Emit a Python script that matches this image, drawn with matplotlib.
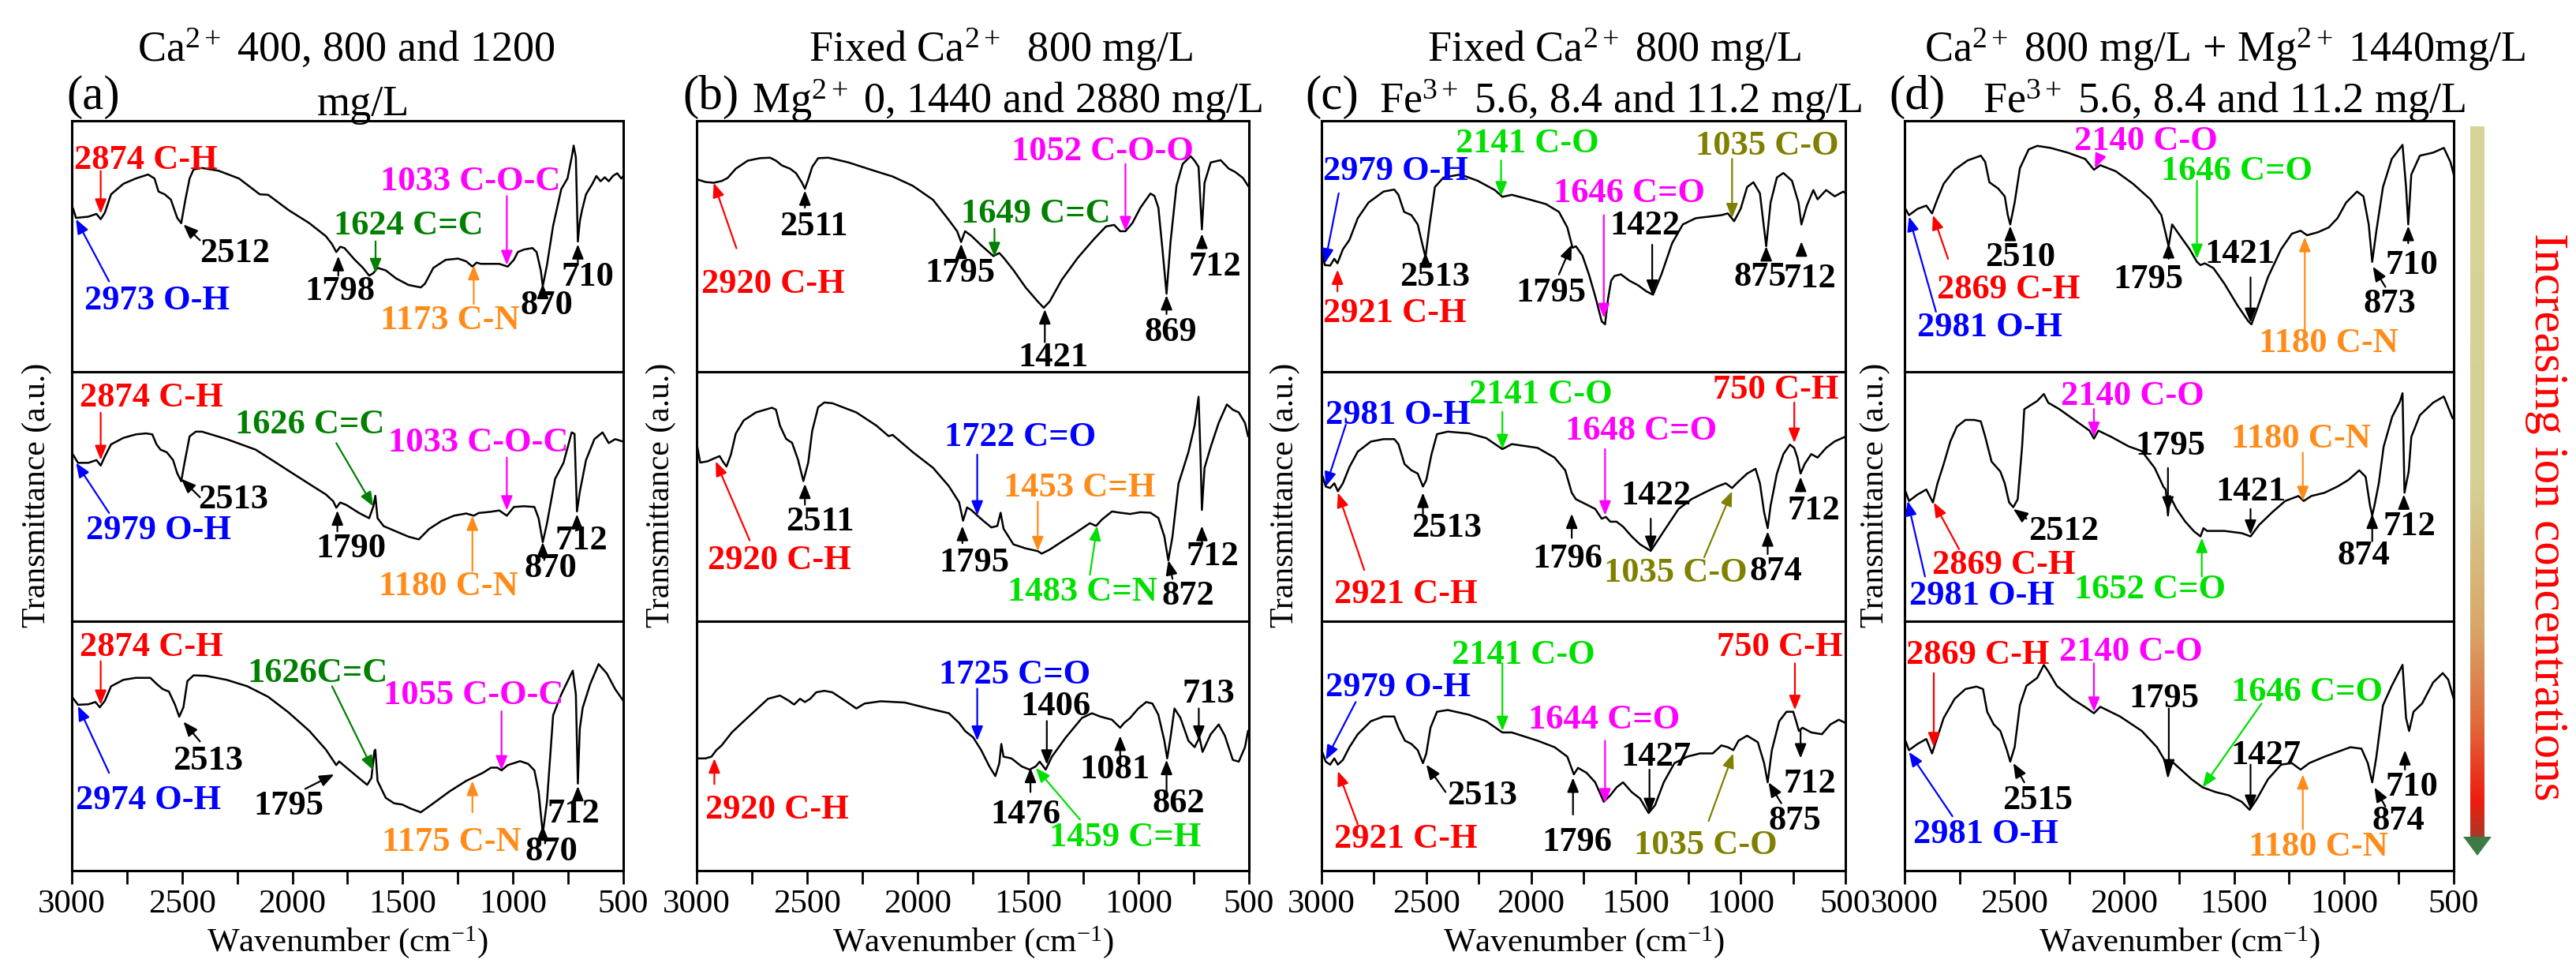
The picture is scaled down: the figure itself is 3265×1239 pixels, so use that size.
import numpy as np
import matplotlib
matplotlib.use('Agg')
import matplotlib.pyplot as plt
from matplotlib.colors import LinearSegmentedColormap
from matplotlib.patches import Polygon

plt.rcParams['font.family'] = ['Liberation Serif', 'DejaVu Serif']
plt.rcParams['mathtext.fontset'] = 'custom'
plt.rcParams['mathtext.rm'] = 'Liberation Serif'
plt.rcParams['mathtext.it'] = 'Liberation Serif:italic'
plt.rcParams['mathtext.bf'] = 'Liberation Serif:bold'

# ---------------- spectra: (wavenumber cm-1, transmittance a.u.) ----------------
a1 = [(2994,65),(2981,61.3),(2925,61.8),(2888,62.9),(2869,60.8),(2850,63.4),(2822,70.7),(2766,74.9),(2710,77),(2654,78.6),(2625,77),(2607,71.8),(2579,70.7),(2551,68.6),(2522,61.3),(2504,59.2),(2485,68.6),(2466,77),(2448,80.6),(2410,81.2),(2335,80.1),(2242,77),(2148,70.7),(2110,70.5),(2017,64.4),(1923,59.2),(1848,54),(1820,50.8),(1801,47.7),(1783,49.8),(1764,49.3),(1717,44.6),(1680,41.4),(1652,38.3),(1633,39.3),(1614,41.4),(1577,40.4),(1530,37.2),(1474,34.6),(1418,33.6),(1399,35.1),(1361,41.4),(1305,44.6),(1249,45.1),(1212,44),(1184,41.9),(1165,43.5),(1146,43),(1118,43),(1062,43),(1024,41.9),(996,44.6),(978,47.7),(950,48.7),(912,49.3),(893,47.7),(874,40.4),(865,34.1),(846,42.5),(818,58.2),(781,72.8),(753,77),(734,85.4),(725,90.1),(715,85.4),(706,51.9),(697,60),(687,64.4),(669,70.7),(640,74.9),(622,78),(603,75.9),(584,77.5),(566,75.9),(547,78),(528,79.1),(509,77),(500,78)]
a2 = [(2994,66.7),(2972,63.5),(2925,63.5),(2888,64.6),(2869,62.4),(2850,66.1),(2822,70.9),(2766,73.5),(2710,74.9),(2663,75.3),(2635,74.9),(2616,70.9),(2598,68.8),(2569,67.7),(2541,64.6),(2522,59.3),(2504,56.1),(2489,63.5),(2466,74.1),(2438,76),(2410,76),(2298,73),(2167,68.8),(2110,65.6),(2017,60.3),(1923,55),(1848,50.8),(1815,48.1),(1801,45.5),(1783,47.6),(1755,46.6),(1698,43.4),(1652,41.3),(1633,46),(1624,50.3),(1614,41.3),(1586,38.1),(1530,36),(1474,33.9),(1427,32.8),(1380,37),(1324,40.2),(1268,42.3),(1212,43.2),(1178,42.3),(1155,43.4),(1099,43.9),(1062,44.4),(1028,42.3),(996,45.8),(950,46.1),(903,45.8),(884,41.3),(865,31.7),(846,39.2),(809,57.1),(771,63.5),(734,75.7),(721,75.1),(710,44),(697,51.9),(669,64.6),(631,73),(594,75.7),(566,71.4),(537,73),(500,72)]
a3 = [(2994,69.1),(2972,66.5),(2925,66.7),(2893,67.6),(2873,65.5),(2850,68.1),(2822,73.9),(2766,76.5),(2710,77.3),(2644,77.3),(2616,74.9),(2588,72.8),(2560,71.8),(2532,66.5),(2513,61.7),(2494,65.5),(2476,76),(2448,78.3),(2391,78.1),(2298,76.5),(2204,73.9),(2110,69.7),(2017,63.4),(1923,56),(1848,48.5),(1820,44.8),(1801,42.3),(1788,43.8),(1755,41.3),(1698,37.1),(1661,34.4),(1642,37.1),(1628,48),(1624,48.5),(1614,36),(1577,29.2),(1539,27),(1502,26.5),(1464,24.9),(1418,23.4),(1361,27),(1287,31.8),(1212,36),(1174,37.6),(1137,39.2),(1099,41.3),(1071,41.3),(1052,40.2),(1024,42.3),(968,43.9),(931,42.8),(903,40.2),(884,31.8),(865,14.9),(846,27.6),(818,62.3),(781,70.7),(729,80.2),(715,70.7),(706,34.9),(697,57),(684,65.3),(650,74.8),(612,82.8),(575,79.1),(537,72.8),(500,68.1)]
b1 = [(2996,76.6),(2960,75.6),(2923,75.3),(2887,76),(2860,77.2),(2823,80.9),(2769,84.1),(2714,85.1),(2668,85.3),(2641,84.1),(2614,82.2),(2577,80.9),(2550,79.1),(2523,75.3),(2510,72.9),(2495,76.6),(2477,81.6),(2450,85.1),(2404,85.3),(2313,83.4),(2204,80.3),(2113,77.8),(2022,74.1),(1930,68.5),(1858,60.4),(1821,56),(1803,51.7),(1785,56),(1757,54.2),(1712,50.4),(1657,46.1),(1630,47.3),(1611,45.5),(1566,40.5),(1511,33.6),(1456,28),(1429,25.5),(1402,28),(1347,36.7),(1274,45.5),(1201,52.9),(1147,57.9),(1110,58.5),(1083,56),(1059,56),(1028,59.2),(991,65.4),(946,71),(928,70.1),(910,65.4),(892,49.2),(873,31.1),(855,51.7),(828,74.1),(800,82.8),(764,85.9),(746,84.1),(728,81.6),(713,56.7),(701,75.3),(673,83.4),(628,84.3),(591,80.9),(564,79.7),(527,77.2),(504,74.1)]
b2 = [(2996,69.4),(2984,63.6),(2951,64.1),(2923,65.2),(2896,66.2),(2882,64.1),(2865,62),(2845,66.8),(2823,75.2),(2787,80.5),(2732,83.7),(2659,85.6),(2641,84.8),(2623,78.4),(2595,73.1),(2568,71.5),(2541,64.7),(2517,56.2),(2495,63.6),(2477,76.3),(2450,85.8),(2422,87.7),(2386,87.4),(2277,83.7),(2186,78.4),(2131,74.2),(2113,74.7),(2022,67.8),(1930,61.5),(1858,54.1),(1812,47.7),(1794,40.3),(1776,45.6),(1757,44.6),(1730,42.4),(1703,40.3),(1666,37.6),(1639,38.2),(1624,43.5),(1611,37.1),(1566,30.8),(1511,29.2),(1456,28.1),(1438,27.1),(1402,28.7),(1347,31.9),(1292,35),(1220,39.3),(1192,38.2),(1165,40.8),(1120,44),(1083,43.5),(1038,43),(992,43.7),(946,43.5),(910,41.4),(883,34),(865,24.4),(846,34),(819,55.1),(774,67.8),(746,78.4),(728,90),(719,65.7),(713,44.6),(701,61.5),(673,69.9),(637,79.5),(600,86.9),(573,84.8),(546,83.7),(518,79.5),(504,74.2)]
b3 = [(2996,45),(2960,45),(2933,45.7),(2911,48.3),(2887,50.2),(2841,55.4),(2787,59.9),(2732,64.4),(2677,68.9),(2623,70.2),(2586,68.3),(2559,66.6),(2532,68.9),(2510,67.6),(2486,68.9),(2459,71.5),(2422,72.1),(2386,71.5),(2331,68.3),(2277,65),(2240,67),(2167,67.9),(2058,67.4),(1949,65),(1858,63.1),(1812,59.2),(1785,56),(1748,53.4),(1712,48.3),(1675,41.8),(1648,37.9),(1630,43.1),(1621,50.8),(1611,45.7),(1575,45),(1529,41.8),(1493,40.5),(1465,41.8),(1447,43.7),(1420,40.5),(1392,45.7),(1329,53.4),(1256,61.2),(1211,63.1),(1174,61.8),(1120,60.5),(1083,57.3),(1065,59.2),(1038,61.2),(1001,65),(965,67.6),(937,67),(910,62.5),(883,52.1),(870,45),(855,53.4),(837,65),(810,61.2),(774,52.1),(746,49.5),(724,53.4),(710,47.6),(673,54.7),(637,58.6),(609,54.1),(573,44.4),(546,43.7),(518,49.5),(504,56)]
c1 = [(2994,46.3),(2984,42.5),(2959,42.3),(2939,45),(2924,43.2),(2898,48.8),(2867,52.5),(2827,61.2),(2776,67.4),(2704,71.8),(2653,72.6),(2633,70.5),(2606,63.7),(2571,62.4),(2541,58.7),(2520,51.2),(2504,45.6),(2484,58.7),(2459,73.6),(2418,77.4),(2337,78.6),(2255,76.1),(2173,72.4),(2137,69.7),(2092,70.5),(2010,68.7),(1929,66.8),(1867,63.7),(1827,57.5),(1802,49.4),(1786,50),(1755,46.3),(1724,38.8),(1694,30.1),(1663,20.1),(1647,18.9),(1633,28.9),(1618,36.3),(1602,38.2),(1571,38.8),(1531,36.3),(1490,34.5),(1449,32),(1418,30.7),(1378,38.8),(1327,51.2),(1276,58.7),(1214,61.2),(1153,61.8),(1092,62.4),(1061,63.1),(1031,60),(1000,64.9),(969,73.6),(939,75.5),(908,71.1),(878,50),(857,67.4),(827,77.4),(796,79.2),(755,76.1),(724,67.4),(710,58.7),(684,66.2),(653,72.4),(633,68.7),(592,72.4),(551,69.9),(510,71.8),(500,71.1)]
c2 = [(2994,57.9),(2980,54),(2959,53.4),(2939,55.3),(2922,52.1),(2898,55.3),(2867,61.8),(2827,68),(2765,72),(2704,73),(2653,73),(2633,71),(2604,63),(2571,60.5),(2541,59.2),(2516,54),(2500,56.6),(2475,67),(2449,75),(2398,76),(2296,75.3),(2214,73.4),(2137,69),(2092,71),(1969,69.5),(1888,65.6),(1837,60.5),(1806,51.5),(1786,48.9),(1755,47.6),(1724,46.3),(1694,45),(1663,41.1),(1643,41.8),(1622,39.9),(1592,39.9),(1561,37.9),(1520,34),(1480,30.8),(1429,28.2),(1398,32.1),(1347,38.6),(1296,45),(1235,48.9),(1174,51.5),(1112,54),(1071,55.3),(1041,53.4),(1010,56),(969,59.2),(929,61.1),(908,55.3),(888,43.7),(871,37.3),(857,46.3),(827,59.2),(796,67),(765,70.8),(745,69.5),(729,65.6),(714,59.2),(694,63.1),(663,67),(633,65.6),(592,69.5),(551,72.1),(500,74)]
c3 = [(2994,47),(2980,43.7),(2959,42.5),(2939,45),(2922,42.5),(2898,44.4),(2867,49.5),(2827,54.7),(2765,59.9),(2704,61.8),(2653,61.8),(2633,57.3),(2602,52.1),(2571,50.8),(2541,48.3),(2516,43.1),(2500,47),(2480,57.3),(2449,63.7),(2398,64.4),(2296,62.5),(2214,59.9),(2137,55.4),(2092,55.4),(1969,52.1),(1888,49.5),(1827,45.7),(1796,38.6),(1776,41.2),(1735,39.2),(1694,35.4),(1653,27.6),(1622,30.2),(1592,33.4),(1561,35.4),(1520,31.5),(1480,28.9),(1439,23.1),(1408,26.3),(1367,35.4),(1316,43.1),(1255,45.7),(1194,47),(1133,47),(1092,50.2),(1061,49.5),(1035,48.3),(1010,52.1),(969,54.1),(918,51.5),(888,43.1),(871,35.4),(851,48.3),(816,59.9),(781,63.7),(749,63.7),(735,59.9),(722,56),(705,57.3),(663,55.4),(612,54.7),(572,58.6),(531,60.5),(500,59.2)]
d1 = [(2996,64.9),(2980,62.4),(2941,64.9),(2901,66.2),(2875,63.1),(2851,68.7),(2822,74.9),(2772,80.5),(2713,84.2),(2653,86.1),(2633,83.6),(2614,75.5),(2574,73),(2544,69.9),(2530,62.4),(2519,58.7),(2499,67.4),(2475,81.1),(2435,88.6),(2396,90),(2336,89.2),(2257,87.3),(2178,84.8),(2138,80.5),(2109,82.3),(2039,79.9),(1960,74.9),(1881,68.7),(1831,62.4),(1811,55),(1798,50),(1782,58.7),(1742,53.7),(1702,48.8),(1669,43.8),(1653,42.5),(1633,43.2),(1594,41.3),(1544,35.1),(1484,26.4),(1435,20.1),(1421,18.9),(1395,25.1),(1346,37.6),(1286,48.8),(1237,55),(1197,56.2),(1168,54.4),(1118,55.6),(1069,57.5),(1029,61.2),(990,67.4),(940,71.8),(911,69.9),(887,58.7),(871,43.8),(852,56.2),(822,73.6),(782,84.8),(733,90.4),(717,73.6),(707,58.7),(693,78.6),(654,86.1),(594,87.3),(545,89.2),(515,83.6),(500,78.6)]
d2 = [(2996,52.1),(2980,48.2),(2941,50.8),(2901,52.8),(2871,47.6),(2851,55),(2822,63),(2792,72),(2762,78),(2723,80.7),(2683,80.7),(2653,80.1),(2633,74),(2604,64),(2564,60),(2544,55.3),(2524,47.6),(2505,45.7),(2485,48.9),(2465,70),(2455,85),(2396,88.3),(2366,91.1),(2346,87.6),(2297,85.1),(2217,80.1),(2158,76.4),(2138,73.2),(2118,76.4),(2059,73.9),(1980,70.1),(1920,68.2),(1861,61.4),(1821,53.8),(1811,52.8),(1801,42.4),(1792,50.2),(1762,45),(1722,39.9),(1682,36),(1653,34),(1639,37.3),(1623,36.2),(1544,36.2),(1465,35.3),(1425,34),(1386,38.6),(1326,43.7),(1267,48.2),(1207,50.2),(1183,48.2),(1148,50.2),(1088,51.5),(1029,54),(980,56.6),(930,60.5),(901,57.9),(881,46.3),(871,42.4),(861,46.3),(841,55.3),(819,70),(780,82),(745,88),(733,91.4),(724,51.5),(705,60),(693,73.9),(654,82.6),(594,87.6),(545,90.1),(505,81.4)]
d3 = [(2996,52.1),(2980,48.3),(2941,50.8),(2901,52.8),(2875,47),(2851,53.4),(2822,61.2),(2772,68.9),(2723,72.8),(2673,73.8),(2643,72.8),(2624,63.7),(2594,58.6),(2564,56),(2534,48.3),(2519,43.7),(2499,49.5),(2475,66.3),(2445,74.1),(2396,77.3),(2366,82.5),(2346,79.9),(2307,74.1),(2237,68.9),(2168,65),(2138,63.1),(2109,65.7),(2019,61.8),(1920,56),(1851,49.5),(1817,44.4),(1801,37.9),(1782,43.7),(1742,40.5),(1693,36.6),(1643,33.4),(1584,31.5),(1524,30.2),(1465,27.6),(1429,24.4),(1395,28.9),(1346,36.6),(1286,42.5),(1237,43.1),(1197,40.5),(1158,43.1),(1088,45.7),(1029,47.6),(970,49.5),(920,48.9),(891,43.1),(871,35.4),(852,45.7),(822,66.3),(782,74.1),(733,82.5),(717,61.2),(703,56),(683,63.7),(644,67),(594,75.4),(550,79.2),(525,76.6),(500,68.9)]

# ---------------- peak labels: (text, colour key, text wn, text T, arrow tail wn, tail T, tip wn, tip T) ----------------
a1_ann = [("2874 C-H","R",2991,84.3,2869,80,2869,63),("2973 O-H","B",2944,28.3,2831,36,2981,60.8),("2512","K",2419,47.2,2419,52.4,2494,58.7),("1798","K",1942,32,1792,38.3,1792,46.1),("1624 C=C","G",1811,58.2,1623,52,1623,39.3),("1033 C-O-C","M",1601,75.9,1028,70,1028,42.5),("1173 C-N","O",1601,20.5,1178,27,1178,42.5),("870","K",968,26.3,865,30,865,35),("710","K",781,37.8,706,42.5,706,50.8)]
a2_ann = [("2874 C-H","R",2963,89.4,2869,83.6,2869,64.6),("2979 O-H","B",2934,36.5,2831,43.4,2981,63.5),("2513","K",2429,48.7,2419,49.7,2504,57.1),("1790","K",1895,29.1,1796,36,1796,44.4),("1626 C=C","G",2260,78.8,1801,71.4,1633,46),("1033 C-O-C","M",1567,71.4,1028,65.6,1028,44.4),("1180 C-N","O",1608,13.8,1184,20.1,1184,42.3),("870","K",950,21.2,865,25.4,865,31.7),("712","K",809,32.3,710,37,710,42.9)]
a3_ann = [("2874 C-H","R",2963,89.7,2869,84,2869,66.5),("2974 O-H","B",2981,28.1,2831,39.2,2972,66),("2513","K",2541,43.9,2419,51.8,2494,59.7),("1795","K",2176,26,1942,32.8,1811,38.6),("1626C=C","G",2204,79.2,1820,73.9,1633,40.2),("1055 C-O-C","M",1586,70.2,1052,63.9,1052,40.2),("1175 C-N","O",1596,11.3,1184,23.4,1184,36),("870","K",946,7.6,865,13.9,865,18.1),("712","K",846,22.8,706,29.7,706,33.9)]
b1_ann = [("2920 C-H","R",2978,34.9,2820,49.2,2923,75.3),("2511","K",2626,57.9,2510,65.4,2510,72.2),("1795","K",1967,39.2,1803,46.7,1803,51),("1649 C=C","G",1803,62.9,1652,57,1652,45.7),("1052 C-O-O","M",1575,87.8,1059,82.8,1059,56),("1421","K",1544,5.6,1424,11.8,1424,24.9),("869","K",974,15.6,873,23,873,30.5),("712","K",773,41.7,713,49.2,713,55)]
b2_ann = [("2920 C-H","R",2951,24.4,2760,32.4,2914,64.1),("2511","K",2596,39.8,2510,46.7,2510,55.1),("1795","K",1903,23.4,1797,31.3,1797,38.2),("1722 C=O","B",1879,73.7,1730,66.8,1730,42.4),("1453 C=H","O",1611,53.5,1456,48,1456,28.1),("1483 C=N","LG",1593,11.7,1220,18.6,1187,38.2),("872","K",895,10.2,846,17,865,24.4),("712","K",783,26,713,31.9,713,38.2)]
b3_ann = [("2920 C-H","R",2960,24.4,2920,34.7,2920,45),("1725 C=O","B",1903,78.6,1730,73,1730,52.1),("1406","K",1533,65.7,1415,60,1415,42.5),("1476","K",1669,22.5,1489,31.5,1489,41.2),("1459 C=H","LG",1404,13.4,1265,20.5,1465,41.2),("1081","K",1265,40.5,1083,45.7,1083,54.1),("862","K",937,27,873,31.5,873,44.4),("713","K",800,70.8,727,65,727,52.1)]
c1_ann = [("2979 O-H","B",2994,79.9,2918,71.1,2984,43.2),("2921 C-H","R",2994,23.3,2924,32,2924,40.7),("2513","K",2627,37.6,2504,42.5,2504,47.5),("2141 C-O","LG",2361,91,2143,84.2,2143,69.9),("1795","K",2071,31.3,1867,38.8,1806,50.6),("1646 C=O","M",1892,71.1,1653,62.4,1653,21.4),("1422","K",1626,58.1,1422,50.6,1422,30.7),("1035 C-O","OL",1214,89.8,1041,84.8,1041,61.2),("875","K",1031,37.6,878,45,878,50),("712","K",796,37,710,46.3,710,51.9)]
c2_ann = [("2981 O-H","B",2980,82.6,2884,78.8,2980,54),("2141 C-O","LG",2296,90.8,2137,83.9,2137,69),("1648 C=O","M",1837,76.3,1647,69,1647,42.4),("750 C-H","R",1132,92.7,744,87.7,744,71.5),("2921 C-H","R",2939,10.8,2796,20.5,2922,51.5),("2513","K",2571,37.3,2516,43.1,2516,51.5),("1796","K",1994,25,1806,33.4,1806,43.1),("1422","K",1571,50.2,1429,41.1,1429,28.2),("1035 C-O","OL",1653,19.2,1174,25.6,1041,52.1),("874","K",959,19.9,871,26.9,871,36),("712","K",775,44.4,714,52.1,714,57.9)]
c3_ann = [("2141 C-O","LG",2378,86.3,2137,83.1,2137,56),("2979 O-H","B",2980,73.4,2837,67.6,2980,44.4),("2921 C-H","R",2939,12.8,2827,18.6,2922,39.9),("2513","K",2402,30.2,2408,31.5,2500,42.5),("1644 C=O","M",2014,60.5,1647,52.1,1647,27),("1427","K",1571,45.7,1435,40.5,1435,23.1),("1796","K",1949,11.5,1800,22.5,1800,37.3),("1035 C-O","OL",1510,10.2,1153,19.9,1035,47),("875","K",867,19.9,806,27,867,35.4),("712","K",796,34.7,714,56,714,45),("750 C-H","R",1112,89.5,741,83.1,741,64.4)]
d1_ann = [("2140 C-O","M",2227,91.7,2109,86.1,2134,81.1),("1646 C=O","LG",1831,79.9,1669,76.1,1669,45),("2510","K",2633,45.6,2519,53.7,2519,58.1),("2869 C-H","R",2851,32.6,2802,45,2871,62.4),("2981 O-H","B",2941,17.7,2857,23.9,2980,61.8),("1795","K",2049,36.9,1798,45,1798,51.2),("1421","K",1633,46.9,1425,37.6,1425,19.5),("1180 C-N","O",1386,11.4,1178,16.4,1178,53.7),("710","K",811,42.5,707,51.2,707,58.1),("873","K",910,27,811,33.8,868,41.9)]
d2_ann = [("2140 C-O","M",2287,90.1,2138,85.1,2138,73.9),("1795","K",1950,70.1,1801,61.4,1801,44),("1180 C-N","O",1514,73.2,1187,67.6,1187,48.2),("1421","K",1583,52,1425,45,1425,34.7),("2512","K",2435,36,2445,41.1,2505,45),("2869 C-H","R",2875,22.4,2752,28.9,2867,47.6),("2981 O-H","B",2980,10.2,2907,17.9,2986,48.2),("1652 C=O","LG",2227,12.8,1647,17.9,1647,33.4),("874","K",1029,26.3,871,32.1,871,43.1),("712","K",822,37.9,727,45,727,50.8)]
d3_ann = [("2869 C-H","R",2994,86.3,2867,79.2,2867,49.5),("2140 C-O","M",2297,87.6,2138,83.1,2138,63.7),("1795","K",1980,68.9,1797,65,1797,38.6),("1646 C=O","LG",1514,71.5,1375,67,1643,33.4),("1427","K",1514,46.3,1425,42.5,1425,24.4),("2515","K",2554,28.3,2455,35.4,2505,43.1),("2981 O-H","B",2960,14.7,2782,21.8,2980,47.6),("710","K",811,33.4,722,40.5,722,48.3),("874","K",871,19.9,811,25.7,861,33.4),("1180 C-N","O",1435,9.5,1187,16.6,1187,38.6)]

xtick_major = [3000, 2500, 2000, 1500, 1000, 500]
xtick_minor = [2750, 2250, 1750, 1250, 750]

titles_line1 = ["Ca$^{2+}$ 400, 800 and 1200", "Fixed Ca$^{2+}$  800 mg/L", "Fixed Ca$^{2+}$ 800 mg/L",
                "Ca$^{2+}$ 800 mg/L + Mg$^{2+}$ 1440mg/L"]
titles_line2 = ["mg/L", "Mg$^{2+}$ 0, 1440 and 2880 mg/L", "Fe$^{3+}$ 5.6, 8.4 and 11.2 mg/L",
                "Fe$^{3+}$ 5.6, 8.4 and 11.2 mg/L"]
panel_labels = ["(a)", "(b)", "(c)", "(d)"]
side_text = "Increasing ion concentrations"

COLORS = {"R": "#ff0000", "B": "#0000ff", "G": "#008000", "LG": "#00e000",
          "M": "#ff00ff", "O": "#ff8c1a", "OL": "#808000", "K": "#000000"}

spectra = [[a1, a2, a3], [b1, b2, b3], [c1, c2, c3], [d1, d2, d3]]
annots = [[a1_ann, a2_ann, a3_ann], [b1_ann, b2_ann, b3_ann],
          [c1_ann, c2_ann, c3_ann], [d1_ann, d2_ann, d3_ann]]

# ---------------- layout (pixels) ----------------
W, H = 3265, 1239
fig = plt.figure(figsize=(W / 100, H / 100), dpi=100)
cols_px = [(91, 790), (883, 1583), (1675, 2339), (2414, 3110)]
rows_px = [(153, 471), (471, 787), (787, 1103)]

def fx(px):
    return px / W

def fy(py):
    return 1 - py / H

for ci, (l, r) in enumerate(cols_px):
    for ri, (t, b) in enumerate(rows_px):
        ax = fig.add_axes([fx(l), fy(b), (r - l) / W, (b - t) / H])
        pts = spectra[ci][ri]
        wn = [p[0] for p in pts]
        tr = [p[1] for p in pts]
        ax.plot(wn, tr, color='black', lw=1.8)
        ax.set_xlim(3000, 500)
        ax.set_ylim(0, 100)
        ax.set_yticks([])
        for s in ax.spines.values():
            s.set_linewidth(2.2)
        if ri == 2:
            ax.set_xticks(xtick_major)
            ax.set_xticks(xtick_minor, minor=True)
            ax.set_xticklabels([str(v) for v in xtick_major])
            ax.tick_params(axis='x', which='both', direction='out', length=12, width=2,
                           labelsize=31, pad=5)
        else:
            ax.set_xticks([])
        for lab, ck, tx, ty, x0, y0, x1, y1 in annots[ci][ri]:
            c = COLORS[ck]
            ax.annotate('', xy=(x1, y1), xytext=(x0, y0),
                        arrowprops=dict(arrowstyle='-|>,head_length=0.55,head_width=0.22',
                                        color=c, lw=1.6, shrinkA=0, shrinkB=0,
                                        mutation_scale=20))
            ax.text(tx, ty, lab, color=c, fontsize=32, fontweight='bold',
                    ha='left', va='center')
    # x label
    fig.text(fx((l + r) / 2), fy(1194), "Wavenumber (cm$^{-1}$)", fontsize=31,
             ha='center', va='center')

# y labels
for xp in [47, 838, 1629, 2377]:
    fig.text(fx(xp), fy(627), "Transmittance (a.u.)", rotation=90, fontsize=30,
             ha='center', va='center')

# titles
title1_x = [439, 1269, 2046, 2820]
for i in range(4):
    fig.text(fx(title1_x[i]), fy(63), titles_line1[i], fontsize=39, ha='center', va='center')
fig.text(fx(460), fy(133), titles_line2[0], fontsize=39, ha='center', va='center')
fig.text(fx(953), fy(128), titles_line2[1], fontsize=39, ha='left', va='center')
fig.text(fx(1748), fy(128), titles_line2[2], fontsize=39, ha='left', va='center')
fig.text(fx(2513), fy(128), titles_line2[3], fontsize=39, ha='left', va='center')
label_x = [118, 901, 1688, 2430]
for i in range(4):
    fig.text(fx(label_x[i]), fy(123), panel_labels[i], fontsize=44, ha='center', va='center')

# gradient arrow on the right
cmap = LinearSegmentedColormap.from_list('grad', [(0.0, '#d5d59b'), (0.5, '#d6d095'),
                                                  (0.7, '#d8a86a'), (0.84, '#e06a3c'),
                                                  (0.95, '#ee1c10'), (1.0, '#a83a28')])
gax = fig.add_axes([fx(3131), fy(1062), 18 / W, (1062 - 160) / H])
gax.imshow(np.linspace(0, 1, 256)[:, None], aspect='auto', cmap=cmap)
gax.axis('off')
head = Polygon([[fx(3122), fy(1060)], [fx(3158), fy(1060)], [fx(3140), fy(1084)]],
               closed=True, transform=fig.transFigure, facecolor='#3d7a45', edgecolor='none')
fig.patches.append(head)
fig.text(fx(3228), fy(655), side_text, rotation=-90, color='#ff0000', fontsize=44,
         ha='center', va='center')

fig.savefig('out.png', dpi=100)
